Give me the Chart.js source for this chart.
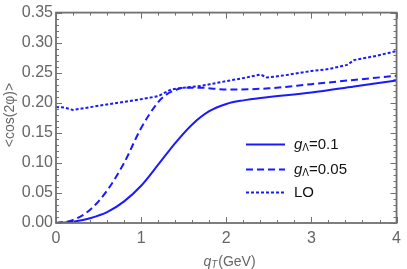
<!DOCTYPE html>
<html>
<head>
<meta charset="utf-8">
<script src="https://cdn.jsdelivr.net/npm/chart.js@4"></script>
<style>
html,body{margin:0;padding:0;background:#fff;}
#wrap{width:407px;height:269px;position:relative;}
</style>
</head>
<body>
<div id="wrap"><canvas id="c" width="407" height="269"></canvas></div>
<script>
// ---- data ----
const xSolid = [0, 0.2, 0.4, 0.6, 0.8, 1.0, 1.2, 1.4, 1.6, 1.8, 2.0, 2.2, 2.4, 3.0, 3.5, 4.0];
const ySolid = [0, 0.002, 0.008, 0.018, 0.036, 0.062, 0.097, 0.133, 0.164, 0.186, 0.198, 0.204, 0.208, 0.217, 0.227, 0.237];

const xDashed = [0, 0.2, 0.4, 0.6, 0.8, 1.0, 1.2, 1.3, 1.4, 1.5, 1.7, 2.0, 2.5, 3.0, 3.5, 4.0];
const yDashed = [0, 0.005, 0.022, 0.054, 0.100, 0.158, 0.201, 0.214, 0.221, 0.225, 0.225, 0.222, 0.224, 0.231, 0.238, 0.245];

const xLO = [0, 0.1, 0.2, 0.5, 1.0, 1.2, 1.35, 1.5, 1.7, 2.0, 2.2, 2.4, 2.48, 2.7, 3.0, 3.2, 3.42, 3.5, 3.76, 4.0];
const yLO = [0.193, 0.192, 0.188, 0.195, 0.206, 0.211, 0.222, 0.225, 0.228, 0.236, 0.241, 0.247, 0.242, 0.246, 0.253, 0.256, 0.263, 0.271, 0.278, 0.286];

const seriesNames = ["g_\u039b=0.1", "g_\u039b=0.05", "LO"];
const xTicks = [0, 1, 2, 3, 4];
const yTicks = [0, 0.05, 0.10, 0.15, 0.20, 0.25, 0.30, 0.35];
const xTitle = ["q", "T", "(GeV)"];
const yTitle = "<cos(2\u03c6)>";

const BLUE = "#1a1aff";
const GRAY = "#666666";
const FONT = "'Liberation Sans', Arial, sans-serif";
const dashes = [[], [7, 4], [3, 2]];

function pts(xs, ys) { return xs.map((x, i) => ({x: x, y: ys[i]})); }

const framePlugin = {
  id: 'frame',
  afterDraw(chart) {
    const ctx = chart.ctx;
    const a = chart.chartArea;
    const xs = chart.scales.x, ys = chart.scales.y;
    ctx.save();
    ctx.strokeStyle = "#707070";
    ctx.lineWidth = 1.8;
    ctx.strokeRect(a.left, a.top, a.right - a.left, a.bottom - a.top);
    ctx.lineWidth = 1;
    // x ticks (major 1, minor 0.2)
    for (let i = 0; i <= 20; i++) {
      const v = i * 0.2;
      const px = Math.round(xs.getPixelForValue(v)) + 0.5;
      const len = (i % 5 === 0) ? 6 : 3;
      ctx.beginPath();
      ctx.moveTo(px, a.bottom); ctx.lineTo(px, a.bottom - len);
      ctx.moveTo(px, a.top); ctx.lineTo(px, a.top + len);
      ctx.stroke();
    }
    // y ticks (major 0.05, minor 0.01)
    for (let i = 0; i <= 35; i++) {
      const v = i * 0.01;
      const py = Math.round(ys.getPixelForValue(v)) + 0.5;
      const len = (i % 5 === 0) ? 6 : 3;
      ctx.beginPath();
      ctx.moveTo(a.left, py); ctx.lineTo(a.left + len, py);
      ctx.moveTo(a.right, py); ctx.lineTo(a.right - len, py);
      ctx.stroke();
    }
    // x title with subscript
    ctx.fillStyle = GRAY;
    ctx.textBaseline = 'alphabetic';
    ctx.font = "italic 14px " + FONT;
    const wq = ctx.measureText(xTitle[0]).width;
    ctx.font = "italic 10px " + FONT;
    const wT = ctx.measureText(xTitle[1]).width;
    ctx.font = "14px " + FONT;
    const wG = ctx.measureText(xTitle[2]).width;
    const tot = wq + wT + wG;
    let cx = 229 - tot / 2;
    const by = 266;
    ctx.font = "italic 14px " + FONT; ctx.textAlign = 'left';
    ctx.fillText(xTitle[0], cx, by); cx += wq;
    ctx.font = "italic 10px " + FONT;
    ctx.fillText(xTitle[1], cx, by + 2); cx += wT + 1;
    ctx.font = "14px " + FONT;
    ctx.fillText(xTitle[2], cx, by);
    // y title rotated
    ctx.save();
    ctx.translate(10, 115);
    ctx.rotate(-Math.PI / 2);
    ctx.textAlign = 'center'; ctx.textBaseline = 'middle';
    ctx.font = "14px " + FONT;
    ctx.fillText(yTitle, 0, 0);
    ctx.restore();
    // legend
    const rows = [144, 169, 192];
    chart.data.datasets.forEach((ds, i) => {
      const y = rows[i] + 0.5;
      ctx.strokeStyle = BLUE; ctx.lineWidth = 2;
      ctx.setLineDash(dashes[i]);
      ctx.beginPath(); ctx.moveTo(246, y); ctx.lineTo(285, y); ctx.stroke();
      ctx.setLineDash([]);
      ctx.fillStyle = "#111";
      ctx.textAlign = 'left'; ctx.textBaseline = 'middle';
      const name = seriesNames[i];
      if (name.indexOf('_') > 0) {
        const parts = name.split('_');
        const sub = parts[1].charAt(0), rest = parts[1].slice(1);
        let tx = 294;
        ctx.font = "italic 15px " + FONT;
        ctx.fillText(parts[0], tx, y); tx += ctx.measureText(parts[0]).width;
        ctx.font = "10px " + FONT;
        ctx.fillText(sub, tx, y + 4); tx += ctx.measureText(sub).width;
        ctx.font = "15px " + FONT;
        ctx.fillText(rest, tx, y);
      } else {
        ctx.font = "15px " + FONT;
        ctx.fillText(name, 294, y);
      }
    });
    ctx.restore();
  }
};

const mk = (label, xs, ys, i, smooth) => ({
  label: label,
  data: pts(xs, ys),
  borderColor: BLUE,
  borderWidth: 2,
  borderDash: dashes[i],
  pointRadius: 0,
  fill: false,
  cubicInterpolationMode: smooth ? 'monotone' : 'default',
  tension: 0
});

new Chart(document.getElementById('c'), {
  type: 'line',
  data: {
    datasets: [
      mk(seriesNames[0], xSolid, ySolid, 0, true),
      mk(seriesNames[1], xDashed, yDashed, 1, true),
      mk(seriesNames[2], xLO, yLO, 2, false)
    ]
  },
  options: {
    responsive: false,
    animation: false,
    layout: {padding: {left: 0, top: 9, right: 7, bottom: 0}},
    plugins: {legend: {display: false}, tooltip: {enabled: false}},
    scales: {
      x: {
        type: 'linear', min: 0, max: 4,
        grid: {display: false, drawTicks: false, tickLength: 0}, border: {display: false},
        afterBuildTicks: s => { s.ticks = xTicks.map(v => ({value: v})); },
        ticks: {color: GRAY, font: {family: FONT, size: 16}, padding: 6, maxRotation: 0,
                callback: v => String(v)},
        afterFit: s => { s.height = 46; }
      },
      y: {
        type: 'linear', min: 0, max: 0.35,
        grid: {display: false, drawTicks: false, tickLength: 0}, border: {display: false},
        afterBuildTicks: s => { s.ticks = yTicks.map(v => ({value: v})); },
        ticks: {color: GRAY, font: {family: FONT, size: 16}, padding: 3,
                callback: v => Number(v).toFixed(2)},
        afterFit: s => { s.width = 56; }
      }
    }
  },
  plugins: [framePlugin]
});
</script>
</body>
</html>
